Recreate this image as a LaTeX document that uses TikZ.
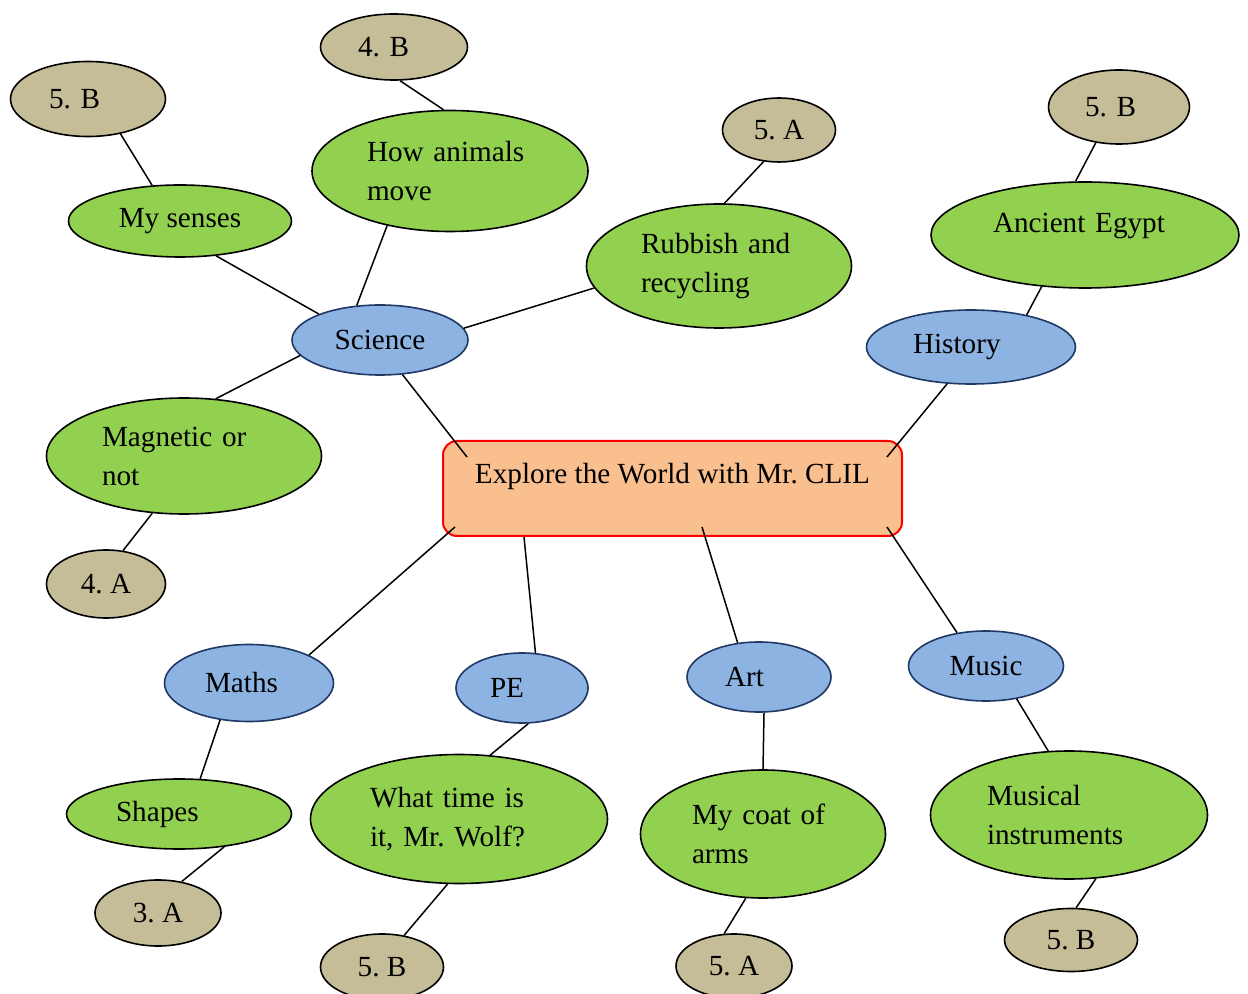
\documentclass[tikz,border=0pt]{standalone}
\usepackage{fontspec}
\setmainfont{Liberation Serif}
\usetikzlibrary{shapes.geometric}
\definecolor{topicfill}{HTML}{F9BF8F}
\definecolor{subjfill}{HTML}{8DB3E2}
\definecolor{subjline}{HTML}{1F3864}
\definecolor{themefill}{HTML}{92D050}
\definecolor{answerfill}{HTML}{C4BD97}

\tikzset{
  subj/.style={ellipse, draw=subjline, fill=subjfill, line width=0.8pt, inner sep=0pt},
  theme/.style={ellipse, draw=black, fill=themefill, line width=0.8pt, inner sep=0pt},
  answer/.style={ellipse, draw=black, fill=answerfill, line width=0.8pt, inner sep=0pt},
  lft/.style={align=left, text width=#1},
  link/.style={line width=0.75pt}
}

\begin{document}
\frenchspacing
\begin{tikzpicture}[x=0.5pt,y=-0.5pt,font=\fontsize{14.6pt}{19.5pt}\selectfont\frenchspacing]
\useasboundingbox (0,0) rectangle (1248,994);

% topic
\node[draw=red, fill=topicfill, line width=1pt, rounded corners=7pt,
  minimum width=229.5pt, minimum height=47.5pt, text height=10pt, text depth=15pt]
  (main) at (672.5,488.5) {Explore the World with Mr. CLIL};

% subjects
\node[subj, minimum width=88pt, minimum height=35pt] (sci) at (380,340) {Science};
\node[subj, lft=58pt, minimum width=104.5pt, minimum height=37pt] (hist) at (971,347) {History};
\node[subj, lft=44pt, minimum width=84.5pt, minimum height=38.5pt] (maths) at (249,683) {Maths};
\node[subj, lft=32pt, minimum width=66pt, minimum height=35pt] (pe) at (522,688) {PE};
\node[subj, lft=34pt, minimum width=72pt, minimum height=35pt] (art) at (759,677) {Art};
\node[subj, minimum width=77.5pt, minimum height=35pt] (music) at (986,666) {Music};

% themes
\node[theme, minimum width=111.5pt, minimum height=36pt] (senses) at (180,221) {My senses};
\node[theme, lft=83pt, minimum width=138pt, minimum height=60.5pt] (animals) at (450,171) {How animals\\move};
\node[theme, lft=78pt, minimum width=132.5pt, minimum height=62pt] (rubbish) at (719,266) {Rubbish and\\recycling};
\node[theme, lft=92pt, text depth=12pt, minimum width=154pt, minimum height=53pt] (egypt) at (1085,235) {Ancient Egypt};
\node[theme, lft=82pt, minimum width=137.5pt, minimum height=58pt] (magnet) at (184,456) {Magnetic or\\not};
\node[theme, lft=63pt, minimum width=112.5pt, minimum height=35pt] (shapes) at (179,814) {Shapes};
\node[theme, lft=89pt, minimum width=148.5pt, minimum height=64.5pt] (wolf) at (459,819) {What time is\\it, Mr. Wolf?};
\node[theme, lft=71pt, minimum width=122.5pt, minimum height=64pt] (coat) at (763,834) {My coat of\\arms};
\node[theme, lft=82pt, minimum width=138.5pt, minimum height=64pt] (musical) at (1069,815) {Musical\\instruments};

% answers
\node[answer, lft=39pt, minimum width=77.5pt, minimum height=37.5pt] (ans1) at (88,99) {5. B};
\node[answer, lft=36pt, minimum width=73.5pt, minimum height=33pt] (ans2) at (394,47) {4. B};
\node[answer, minimum width=56.5pt, minimum height=32pt] (ans3) at (779,130) {5. A};
\node[answer, lft=34pt, minimum width=70.5pt, minimum height=37pt] (ans4) at (1119,107) {5. B};
\node[answer, minimum width=59.5pt, minimum height=34pt] (ans5) at (106,584) {4. A};
\node[answer, minimum width=63pt, minimum height=33pt] (ans6) at (158,913) {3. A};
\node[answer, minimum width=61.5pt, minimum height=33pt] (ans7) at (382,967) {5. B};
\node[answer, minimum width=58pt, minimum height=32pt] (ans8) at (734,966) {5. A};
\node[answer, minimum width=66.5pt, minimum height=31.5pt] (ans9) at (1071,940) {5. B};

% topic to subjects
\draw[link] ([shift={(25,17)}]main.north west) -- (sci.-57);
\draw[link] ([shift={(-16,17)}]main.north east) -- (hist.-123);
\draw[link] ([shift={(13,-10)}]main.south west) -- (maths.25);
\draw[link] ([shift={(-148.5,0)}]main.south) -- (pe.69);
\draw[link] ([shift={(29.5,-10)}]main.south) -- (art.122);
\draw[link] ([shift={(-16,-10)}]main.south east) -- (music.131);

% subjects to themes
\draw[link] (sci.157) -- (senses.-44);
\draw[link] (sci.124) -- (animals.-139);
\draw[link] (sci.8) -- (rubbish.190);
\draw[link] (sci.191) -- (magnet.61);
\draw[link] (hist.30) -- (egypt.230);
\draw[link] (maths.-128) -- (shapes.59);
\draw[link] (pe.-80) -- (wolf.64);
\draw[link] (art.-82) -- (coat.90);
\draw[link] (music.-47) -- (musical.108);

% themes to answers
\draw[link] (senses.128) -- (ans1.-47);
\draw[link] (animals.96) -- (ans2.-80);
\draw[link] (rubbish.85) -- (ans3.-116);
\draw[link] (egypt.100) -- (ans4.-123);
\draw[link] (magnet.-119) -- (ans5.63);
\draw[link] (shapes.-36) -- (ans6.53);
\draw[link] (wolf.-100) -- (ans7.55);
\draw[link] (coat.-105) -- (ans8.107);
\draw[link] (musical.-67) -- (ans9.81);

\end{tikzpicture}
\end{document}
